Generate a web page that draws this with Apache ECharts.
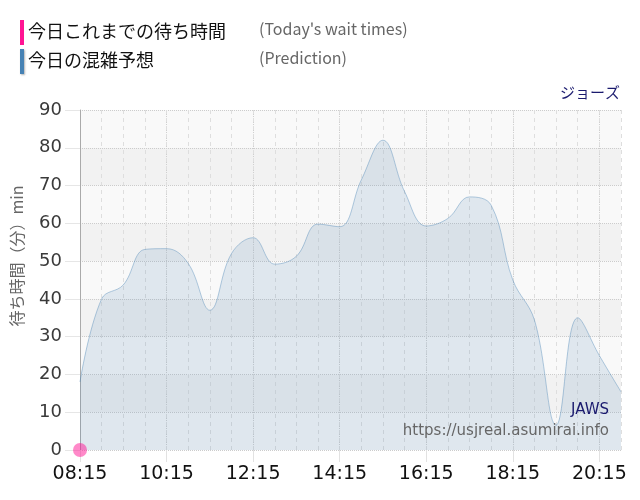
<!DOCTYPE html>
<html><head><meta charset="utf-8">
<script src="https://cdn.jsdelivr.net/npm/echarts@6/dist/echarts.min.js"></script>
<style>html,body{margin:0;padding:0;background:#fff}#c{width:640px;height:500px}</style>
</head><body><div id="c"></div>
<script>
const times = ['08:15','08:45','09:15','09:45','10:15','10:45','11:15','11:45','12:15','12:45','13:15','13:45','14:15','14:45','15:15','15:45','16:15','16:45','17:15','17:45','18:15','18:45','19:15','19:45','20:15','20:45'];
const prediction = [18,40,43.7,53.1,53.3,49.4,37,52,56.2,49.2,51.3,59.8,59.1,71.5,82,68.4,59.3,61.3,67,64.8,45,34.4,6.6,35,25,15.4];
const actualTimes = ['08:15'];
const actual = [0];
const yTicks = [0,10,20,30,40,50,60,70,80,90];

const chart = echarts.init(document.getElementById('c'));
const jp = '"Noto Sans CJK JP", "Noto Sans", sans-serif';
const lat = '"DejaVu Sans", Verdana, sans-serif';
chart.setOption({
  animation: false,
  grid: {left: 80, right: 19, top: 110, bottom: 50, containLabel: false},
  xAxis: [{
    type: 'category', data: times, boundaryGap: false,
    axisLine: {show: false},
    axisTick: {show: true, interval: 3, length: 12, lineStyle: {color: '#e2e2e2'}},
    axisLabel: {interval: 3, color: '#111', fontSize: 19, fontFamily: lat, margin: 15},
    splitLine: {show: true, interval: 3, lineStyle: {color: '#cfcfcf', type: 'dotted'}}
  }, {
    type: 'category', data: times, boundaryGap: false, position: 'bottom',
    axisLine: {show: false}, axisTick: {show: false}, axisLabel: {show: false},
    splitLine: {show: true, interval: 0, lineStyle: {color: '#dedede', type: [4, 4]}}
  }],
  yAxis: {
    type: 'value', min: yTicks[0], max: yTicks[yTicks.length - 1], interval: yTicks[1] - yTicks[0],
    axisLine: {show: true, lineStyle: {color: '#aaaaaa'}},
    axisTick: {show: true, length: 15, lineStyle: {color: '#e6e6e6'}},
    axisLabel: {color: '#3a3a3a', fontSize: 18, fontFamily: lat, margin: 18},
    splitLine: {show: true, lineStyle: {color: '#cccccc', type: 'dotted'}},
    splitArea: {show: true, areaStyle: {color: ['#f9f9f9', '#f2f2f2']}}
  },
  series: [{
    name: '今日の混雑予想', type: 'line', xAxisIndex: 0, data: prediction,
    smooth: 0.4, symbol: 'none',
    lineStyle: {color: 'rgba(70,130,180,0.4)', width: 1},
    areaStyle: {color: 'rgba(70,130,180,0.2)'}
  }, {
    name: '今日これまでの待ち時間', type: 'scatter', xAxisIndex: 0,
    data: actualTimes.map((t, i) => [t, actual[i]]),
    symbolSize: 14, clip: false, z: 5,
    itemStyle: {color: '#ff1493', opacity: 0.5}
  }],
  graphic: [
    {type: 'rect', shape: {x: 20, y: 20, width: 4, height: 25}, style: {fill: '#ff1493'}},
    {type: 'rect', shape: {x: 20, y: 49, width: 4, height: 25}, style: {fill: '#4682b4', shadowBlur: 2, shadowColor: 'rgba(0,0,0,0.3)', shadowOffsetX: 1, shadowOffsetY: 1}},
    {type: 'text', left: 28, top: 22, style: {text: '今日これまでの待ち時間', font: '18px ' + jp, fill: '#111'}},
    {type: 'text', left: 28, top: 51, style: {text: '今日の混雑予想', font: '18px ' + jp, fill: '#111'}},
    {type: 'text', left: 259, top: 21, style: {text: "(Today's wait times)", font: '16px ' + jp, fill: '#666'}},
    {type: 'text', left: 259, top: 50, style: {text: '(Prediction)', font: '16px ' + jp, fill: '#666'}},
    {type: 'text', x: 620, y: 92, style: {text: 'ジョーズ', font: '15px ' + jp, fill: '#1a1a6e', align: 'right', verticalAlign: 'middle'}},
    {type: 'text', x: 17, y: 256, rotation: Math.PI / 2, style: {text: '待ち時間（分）min', font: '16px ' + jp, fill: '#666', align: 'center', verticalAlign: 'middle'}},
    {type: 'text', x: 609, y: 410, z: 10, style: {text: 'JAWS', font: '15px ' + lat, fill: '#1a1a6e', align: 'right', verticalAlign: 'middle'}},
    {type: 'text', x: 609, y: 431, z: 10, style: {text: 'https://usjreal.asumirai.info', font: '15px ' + lat, fill: '#666', align: 'right', verticalAlign: 'middle'}}
  ]
});
</script></body></html>
